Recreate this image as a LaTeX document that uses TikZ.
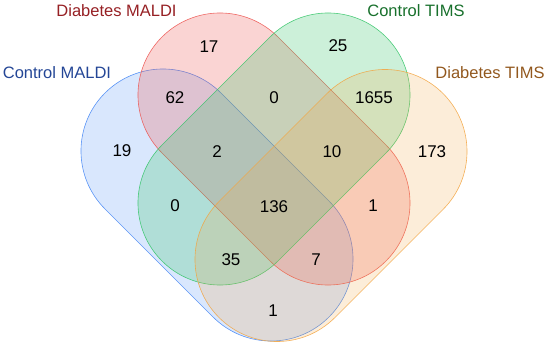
\documentclass[tikz,border=0pt]{standalone}
\usepackage{fontspec}
\setmainfont{Liberation Sans}
\usepackage{tikz}

\definecolor{cmblue}{RGB}{66,133,244}
\definecolor{dmred}{RGB}{236,84,80}
\definecolor{ctgreen}{RGB}{52,196,104}
\definecolor{dtorange}{RGB}{242,164,64}

\begin{document}
\begin{tikzpicture}[x=1pt,y=1pt,
  setline/.style={line width=0.6pt, fill opacity=0.2, draw opacity=0.85},
  cmaldi/.style={setline, draw=cmblue, fill=cmblue},
  dmaldi/.style={setline, draw=dmred, fill=dmred, fill opacity=0.25},
  ctims/.style={setline, draw=ctgreen, fill=ctgreen, fill opacity=0.25},
  dtims/.style={setline, draw=dtorange, fill=dtorange},
  count/.style={font=\fontsize{17}{20}\selectfont, text=black},
  setname/.style={font=\fontsize{16.5}{20}\selectfont}]
\useasboundingbox (0,0) rectangle (550,346);
% the four sets
\draw[cmaldi, shift={(217,141)}, rotate=-45] (-76.4,-82) -- (76.4,-82)
  arc[start angle=-90, end angle=90, radius=82] -- (-76.4,82)
  arc[start angle=90, end angle=270, radius=82] -- cycle;
\draw[dmaldi, shift={(274,197)}, rotate=-45] (-76.4,-82) -- (76.4,-82)
  arc[start angle=-90, end angle=90, radius=82] -- (-76.4,82)
  arc[start angle=90, end angle=270, radius=82] -- cycle;
\draw[ctims, shift={(274,197)}, rotate=45] (-76.4,-82) -- (76.4,-82)
  arc[start angle=-90, end angle=90, radius=82] -- (-76.4,82)
  arc[start angle=90, end angle=270, radius=82] -- cycle;
\draw[dtims, shift={(331,140.5)}, rotate=45] (-76.4,-82) -- (76.4,-82)
  arc[start angle=-90, end angle=90, radius=82] -- (-76.4,82)
  arc[start angle=90, end angle=270, radius=82] -- cycle;
% set names
\node[setname, text={rgb,255:red,150;green,32;blue,36}] (nDM) at (116.5,335.5) {Diabetes MALDI};
\node[setname, text={rgb,255:red,36;green,70;blue,150}] (nCM) at (57,273) {Control MALDI};
\node[setname, text={rgb,255:red,24;green,112;blue,44}] (nCT) at (416,335) {Control TIMS};
\node[setname, text={rgb,255:red,146;green,88;blue,30}] (nDT) at (490,273) {Diabetes TIMS};
% counts
\node[count] (c17) at (209,299) {17};
\node[count] (c25) at (338,300) {25};
\node[count] (c62) at (175,248) {62};
\node[count] (c0a) at (274,248) {0};
\node[count] (c1655) at (374,248) {1655};
\node[count] (c19) at (122,195) {19};
\node[count] (c2) at (217,194) {2};
\node[count] (c10) at (332,194) {10};
\node[count] (c173) at (432,194) {173};
\node[count] (c0b) at (175,140) {0};
\node[count] (c136) at (274,139) {136};
\node[count] (c1a) at (373,140) {1};
\node[count] (c35) at (231,86) {35};
\node[count] (c7) at (316,86) {7};
\node[count] (c1b) at (273,35) {1};
\end{tikzpicture}
\end{document}
